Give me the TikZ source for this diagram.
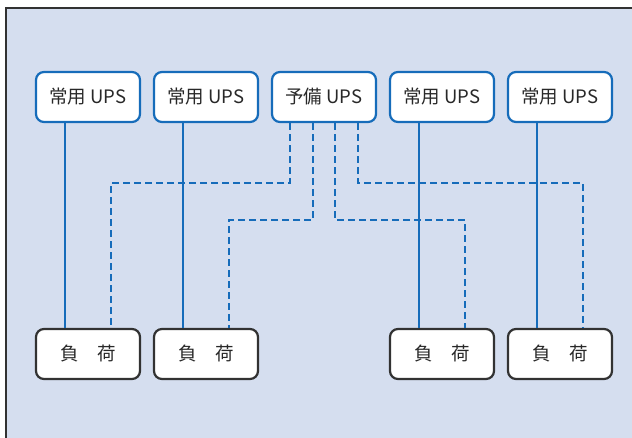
\documentclass[tikz,border=0pt]{standalone}
\usepackage{fontspec}
\usepackage{tikz}
\setmainfont{Noto Sans CJK JP}
\definecolor{panel}{RGB}{213, 222, 239}
\definecolor{linkblue}{RGB}{22, 108, 186}
\definecolor{framegray}{RGB}{50, 50, 50}
\definecolor{textgray}{RGB}{40, 40, 40}
\usetikzlibrary{arrows.meta, positioning, calc}

\begin{document}
\begin{tikzpicture}[x=1pt, y=-1pt,
    upsbox/.style={draw=linkblue, line width=2.2pt, rounded corners=8pt, fill=white,
                  minimum width=104pt, minimum height=50pt, inner sep=0pt,
                  font=\fontsize{18.5}{20}\selectfont, text=textgray},
    loadbox/.style={draw=framegray, line width=2.2pt, rounded corners=8pt, fill=white,
                  minimum width=104pt, minimum height=50pt, inner sep=0pt,
                  font=\fontsize{18.5}{20}\selectfont, text=textgray},
    mainline/.style={draw=linkblue, line width=2pt},
    spareline/.style={draw=linkblue, line width=2pt, dash pattern=on 7pt off 4pt}
]
    \useasboundingbox (0,0) rectangle (632,438);
    \fill[panel] (6,8) rectangle (632,438);
    \draw[framegray, line width=1.2pt] (6,438) -- (6,8) -- (632,8);

    % UPS row
    \node[upsbox] (ups1) at (88,97) {常用 UPS};
    \node[upsbox] (ups2) at (206,97) {常用 UPS};
    \node[upsbox] (spare) at (324,97) {予備 UPS};
    \node[upsbox] (ups4) at (442,97) {常用 UPS};
    \node[upsbox] (ups5) at (560,97) {常用 UPS};

    % loads
    \node[loadbox] (load1) at (88,354) {負　荷};
    \node[loadbox] (load2) at (206,354) {負　荷};
    \node[loadbox] (load4) at (442,354) {負　荷};
    \node[loadbox] (load5) at (560,354) {負　荷};

    % normal feeds
    \draw[mainline] ([xshift=-23pt]ups1.south) -- ([xshift=-23pt]load1.north);
    \draw[mainline] ([xshift=-23pt]ups2.south) -- ([xshift=-23pt]load2.north);
    \draw[mainline] ([xshift=-23pt]ups4.south) -- ([xshift=-23pt]load4.north);
    \draw[mainline] ([xshift=-23pt]ups5.south) -- ([xshift=-23pt]load5.north);

    % spare feeds
    \draw[spareline] ([xshift=-34pt]spare.south) -- ++(0,60) -| ([xshift=23pt]load1.north);
    \draw[spareline] ([xshift=-11pt]spare.south) -- ++(0,97) -| ([xshift=23pt]load2.north);
    \draw[spareline] ([xshift=11pt]spare.south) -- ++(0,97) -| ([xshift=23pt]load4.north);
    \draw[spareline] ([xshift=34pt]spare.south) -- ++(0,60) -| ([xshift=23pt]load5.north);
\end{tikzpicture}
\end{document}
